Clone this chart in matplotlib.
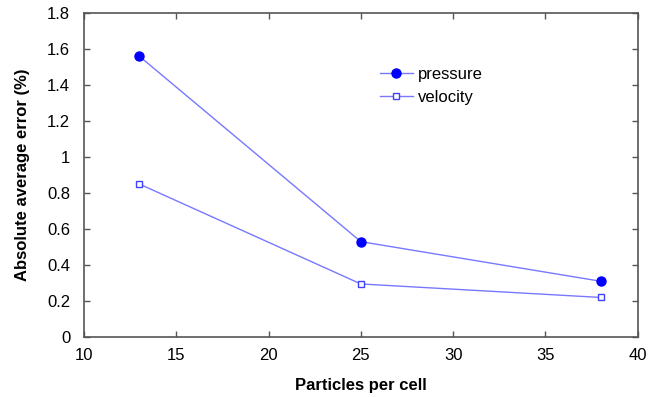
import matplotlib
matplotlib.use("Agg")
import matplotlib.pyplot as plt

particles = [13, 25, 38]
pressure = [1.56, 0.53, 0.31]
velocity = [0.85, 0.295, 0.22]

plt.rcParams['font.family'] = ['Liberation Sans', 'DejaVu Sans']

fig = plt.figure(figsize=(6.52, 3.97), dpi=100)
ax = fig.add_axes([0.129, 0.151, 0.849, 0.816])

line_color = '#7878ff'
ax.plot(particles, pressure, color=line_color, lw=1.0, marker='o', ms=6.5,
        mfc='#0000ff', mec='#0000ff', label='pressure')
ax.plot(particles, velocity, color=line_color, lw=1.0, marker='s', ms=5.0,
        mfc='white', mec='#4040ff', mew=1.0, label='velocity')

ax.set_xlim(10, 40)
ax.set_ylim(0, 1.8)
ax.set_xticks([10, 15, 20, 25, 30, 35, 40])
ax.set_yticks([0, 0.2, 0.4, 0.6, 0.8, 1, 1.2, 1.4, 1.6, 1.8])
ax.set_yticklabels(['0', '0.2', '0.4', '0.6', '0.8', '1', '1.2', '1.4', '1.6', '1.8'])
ax.tick_params(direction='in', top=True, right=True, labelsize=12, length=4,
               width=1, color='#555555')
ax.tick_params(axis='y', pad=10)
ax.tick_params(axis='x', pad=8)
for s in ax.spines.values():
    s.set_linewidth(1.2)
    s.set_color('#555555')

ax.set_xlabel('Particles per cell', fontsize=12, fontweight='bold', labelpad=11)
ax.set_ylabel('Absolute average error (%)', fontsize=12, fontweight='bold', labelpad=12)

ax.legend(loc='upper left', bbox_to_anchor=(0.507, 0.88), frameon=False, fontsize=12,
          handlelength=2.0, handletextpad=0.3, labelspacing=0.5)

fig.savefig('out.png', dpi=100)
